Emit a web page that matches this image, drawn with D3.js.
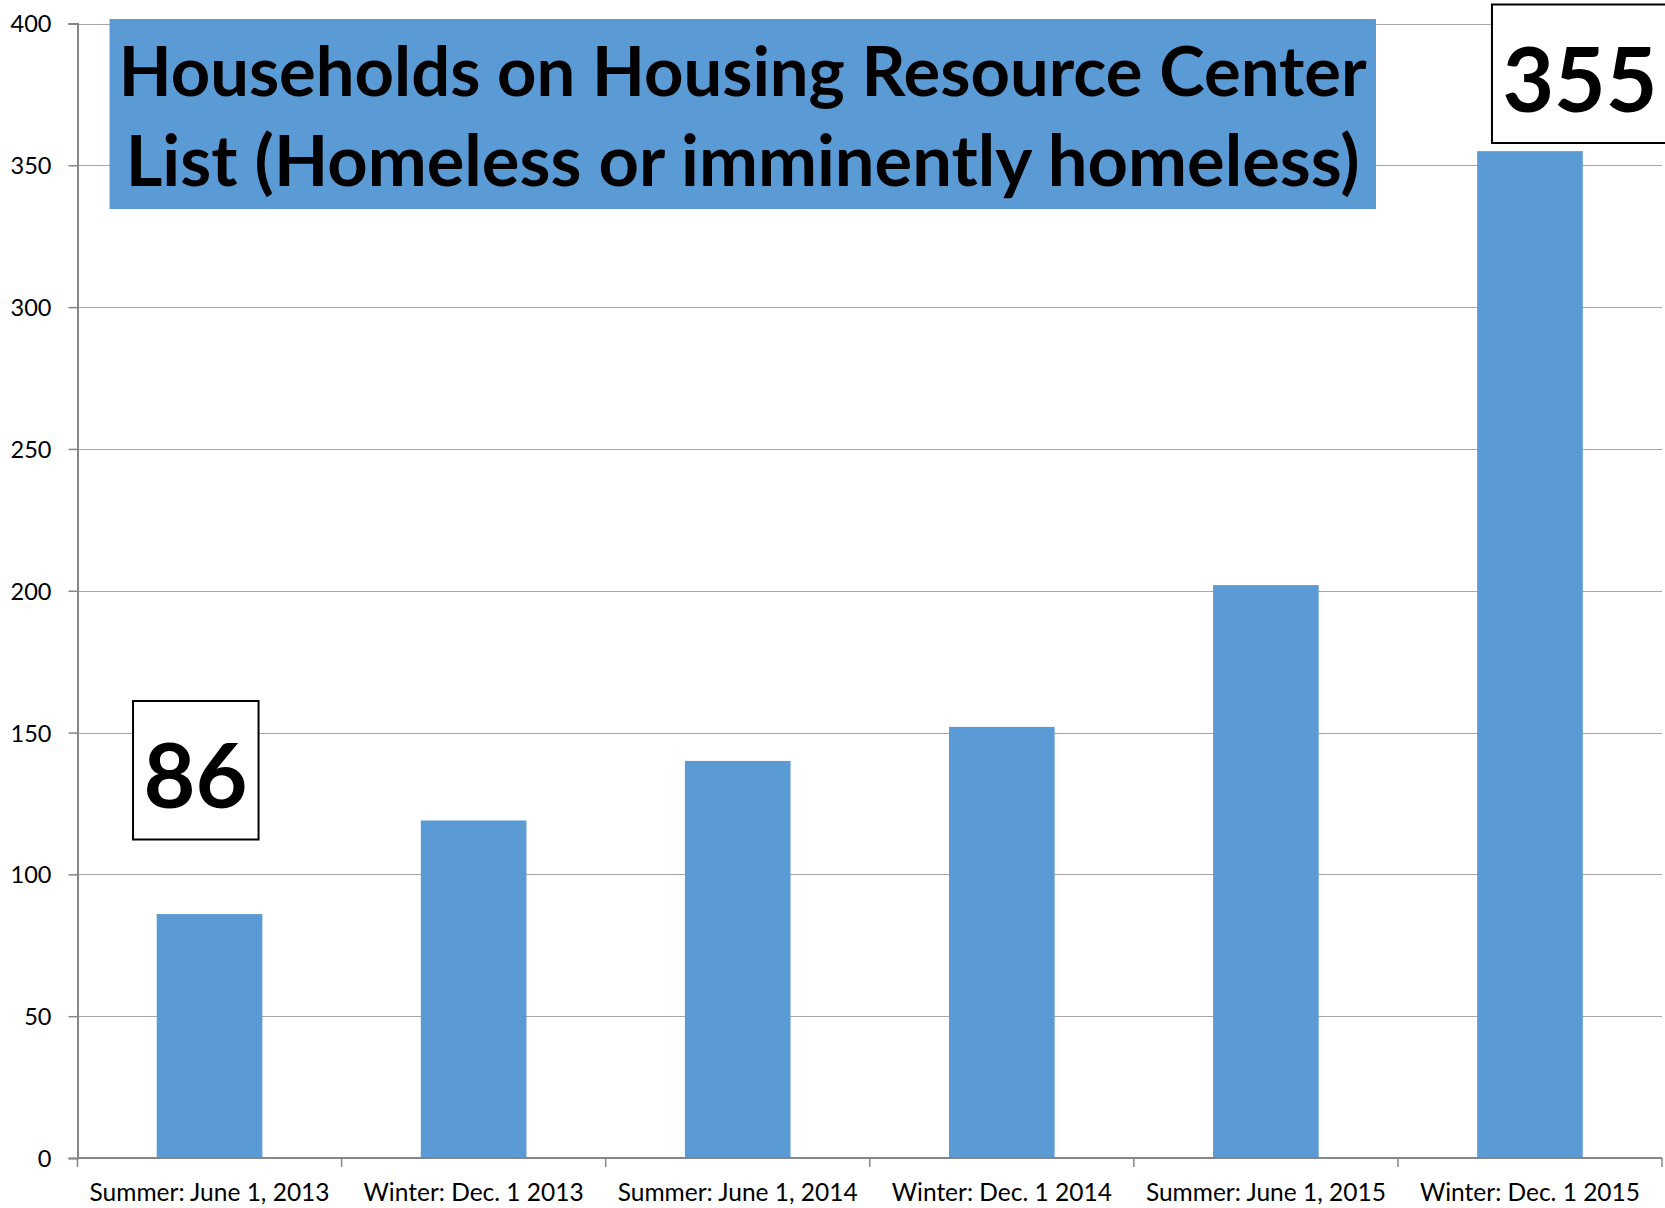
<!DOCTYPE html>
<html><head><meta charset="utf-8">
<script src="https://cdn.jsdelivr.net/npm/d3@7"></script>
<style>html,body{margin:0;padding:0;background:#fff;}svg{display:block;}</style>
</head><body>
<svg id="chart" width="1665" height="1208"></svg>
<script>
const categories = ["Summer: June 1, 2013","Winter: Dec. 1 2013","Summer: June 1, 2014","Winter: Dec. 1 2014","Summer: June 1, 2015","Winter: Dec. 1 2015"];
const households = [86, 119, 140, 152, 202, 355];
const yTicks = [0, 50, 100, 150, 200, 250, 300, 350, 400];
const titleLines = ["Households on Housing Resource Center", "List (Homeless or imminently homeless)"];
const calloutIndex = [0, 5];

(function () {
const FONT = "Lato, 'Open Sans', sans-serif";
const plotLeft = 77.5, plotRight = 1662, plotTop = 23.5, plotBottom = 1158;
const svg = d3.select("#chart");

const x = d3.scaleBand().domain(categories).range([plotLeft, plotRight]).paddingInner(0.6).paddingOuter(0.3);
const y = d3.scaleLinear().domain([0, 400]).range([plotBottom, plotTop]);

function fit(sel, target) {
  const w = sel.node().getComputedTextLength();
  const fs = parseFloat(sel.attr("font-size"));
  sel.attr("font-size", fs * target / w);
  return fs * target / w;
}

// gridlines
svg.append("g").selectAll("line").data(yTicks.filter(d => d > 0)).join("line")
  .attr("x1", plotLeft).attr("x2", plotRight)
  .attr("y1", d => Math.round(y(d)) + 0.5).attr("y2", d => Math.round(y(d)) + 0.5)
  .attr("stroke", "#a6a6a6").attr("stroke-width", 1);

// bars
svg.append("g").selectAll("rect").data(households).join("rect")
  .attr("x", (d, i) => x(categories[i]))
  .attr("width", x.bandwidth())
  .attr("y", d => y(d))
  .attr("height", d => y(0) - y(d))
  .attr("fill", "#5b9bd5");

// y axis
const yAxis = svg.append("g").attr("transform", `translate(${plotLeft},0)`)
  .call(d3.axisLeft(y).tickValues(yTicks).tickSize(9).tickPadding(17).tickFormat(d3.format("d")));
yAxis.select(".domain").attr("stroke", "#868686").attr("stroke-width", 2);
yAxis.selectAll(".tick line").attr("stroke", "#868686").attr("stroke-width", 1.5);
yAxis.selectAll("text").attr("font-family", FONT).attr("fill", "#000").attr("font-size", 22).attr("dy", "0.36em");
const yfs = fit(yAxis.selectAll("text").filter(d => d === 400), 41);
yAxis.selectAll("text").attr("font-size", yfs);

// x axis
const xAxis = svg.append("g").attr("transform", `translate(0,${plotBottom})`);
xAxis.append("line").attr("x1", plotLeft).attr("x2", plotRight).attr("y1", 0).attr("y2", 0)
  .attr("stroke", "#868686").attr("stroke-width", 2);
const bounds = d3.range(categories.length + 1).map(i => x.range()[0] + i * x.step());
xAxis.selectAll("line.tk").data(bounds).join("line").attr("class", "tk")
  .attr("x1", d => d).attr("x2", d => d).attr("y1", 0).attr("y2", 9)
  .attr("stroke", "#868686").attr("stroke-width", 1.5);
const xl = xAxis.selectAll("text").data(categories).join("text")
  .attr("x", d => x(d) + x.bandwidth() / 2).attr("y", 43)
  .attr("text-anchor", "middle").attr("font-family", FONT).attr("font-size", 22).attr("fill", "#000")
  .text(d => d);
const xfs = fit(xl.filter((d, i) => i === 0), 240);
xl.attr("font-size", xfs);

// title box
svg.append("rect").attr("x", 109.5).attr("y", 19).attr("width", 1266.5).attr("height", 190).attr("fill", "#5b9bd5");
const titleWidths = [1248, 1234];
svg.append("g").selectAll("text").data(titleLines).join("text")
  .attr("x", 742.7).attr("y", (d, i) => 96 + i * 90)
  .attr("text-anchor", "middle").attr("font-family", FONT).attr("font-weight", "bold")
  .attr("font-size", 70).attr("fill", "#000").text(d => d)
  .each(function (d, i) { fit(d3.select(this), titleWidths[i]); });

// callouts
const callouts = svg.append("g");
const calloutSpec = [
  { idx: calloutIndex[0], dx: -14, baseline: 808, width: 104 },
  { idx: calloutIndex[1], dx: 50, baseline: 111.5, width: 155 }
];
calloutSpec.forEach(s => {
  const cx = x(categories[s.idx]) + x.bandwidth() / 2 + s.dx;
  const g = callouts.append("g");
  const r = g.append("rect");
  const t = g.append("text").attr("x", cx).attr("y", s.baseline)
    .attr("text-anchor", "middle").attr("font-family", FONT).attr("font-weight", "bold")
    .attr("font-size", 100).attr("fill", "#000").text(households[s.idx]);
  fit(t, s.width);
  r.attr("x", cx - s.width / 2 - 10.5).attr("width", s.width + 21.5)
   .attr("y", s.baseline - 107).attr("height", 138.5)
   .attr("fill", "#fff").attr("stroke", "#000").attr("stroke-width", 2);
});
})();
</script>
</body></html>
